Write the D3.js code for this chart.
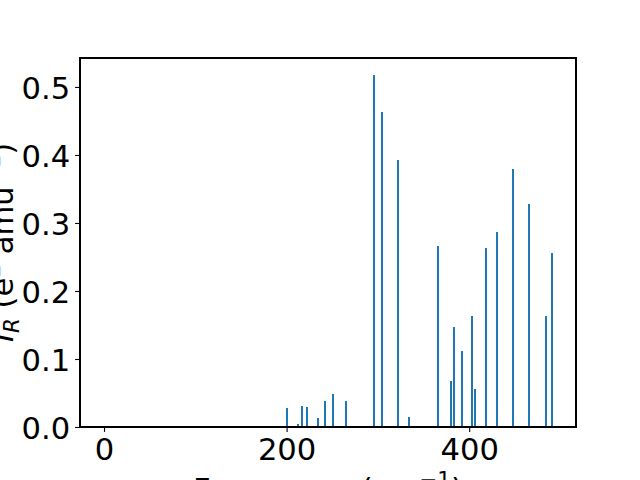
<!DOCTYPE html>
<html>
<head>
<meta charset="utf-8">
<script src="https://cdn.jsdelivr.net/npm/d3@7"></script>
<style>
  html, body { margin: 0; padding: 0; background: #fff; }
  svg { display: block; font-family: "DejaVu Sans", sans-serif; }
</style>
</head>
<body>
<script>
// Data
const frequencies = [200, 212, 216.6, 222, 234.5, 242, 250.6, 265, 296, 304, 322, 334.6, 366, 380, 383.6, 392, 403, 406, 418.6, 431, 448, 466, 483.6, 491];
const intensities = [0.028, 0.004, 0.031, 0.029, 0.013, 0.038, 0.049, 0.038, 0.518, 0.463, 0.393, 0.014, 0.266, 0.068, 0.147, 0.112, 0.163, 0.056, 0.263, 0.287, 0.379, 0.328, 0.163, 0.256];
const xTicks = [0, 200, 400];
const yTicks = [0.0, 0.1, 0.2, 0.3, 0.4, 0.5];
const xLabel = "Frequency (cm";
const yLabelMain = "I";

const W = 640, H = 480;
const m = {left: 80, right: 576, top: 58, bottom: 427};
const fs = 30.6;
const barPx = 2;

const svg = d3.select("body").append("svg").attr("width", W).attr("height", H);
svg.append("rect").attr("width", W).attr("height", H).attr("fill", "#fff");

const x = d3.scaleLinear().domain([-26.3, 517]).range([m.left, m.right]);
const y = d3.scaleLinear().domain([0, 0.5426]).range([m.bottom, m.top]);

const data = frequencies.map((f, i) => ({f, v: intensities[i]}));

svg.append("g").selectAll("rect").data(data).enter().append("rect")
  .attr("x", d => Math.round(x(d.f) - barPx / 2))
  .attr("width", barPx)
  .attr("y", d => Math.round(y(d.v)))
  .attr("height", d => m.bottom - Math.round(y(d.v)))
  .attr("fill", "#1f77b4");

// Axes
const xAxis = d3.axisBottom(x).tickValues(xTicks).tickFormat(d3.format("d")).tickSizeInner(4.9).tickSizeOuter(0).tickPadding(4.9);
const yAxis = d3.axisLeft(y).tickValues(yTicks).tickFormat(d3.format(".1f")).tickSizeInner(4.9).tickSizeOuter(0).tickPadding(4.9);

const gx = svg.append("g").attr("transform", `translate(0,${m.bottom})`).call(xAxis);
const gy = svg.append("g").attr("transform", `translate(${m.left},0)`).call(yAxis);
[gx, gy].forEach(g => {
  g.select(".domain").remove();
  g.selectAll("line").attr("stroke", "#000").attr("stroke-width", 1.1);
  g.selectAll("text").attr("font-size", fs).attr("fill", "#000").attr("font-family", "DejaVu Sans, sans-serif");
});
gx.selectAll("text").attr("dy", "0.76em");
gy.selectAll("text").attr("dy", "0.36em");

// Frame
svg.append("rect")
  .attr("x", m.left).attr("y", m.top)
  .attr("width", m.right - m.left).attr("height", m.bottom - m.top)
  .attr("fill", "none").attr("stroke", "#000").attr("stroke-width", 1.1)
  .attr("shape-rendering", "crispEdges");

// X label
const xl = svg.append("text")
  .attr("x", (m.left + m.right) / 2).attr("y", 500)
  .attr("text-anchor", "middle").attr("font-size", fs).attr("fill", "#000");
xl.append("tspan").text(xLabel);
xl.append("tspan").attr("font-size", fs * 0.7).attr("dy", -fs * 0.42).text("−1");
xl.append("tspan").attr("dy", fs * 0.42).text(")");

// Y label
const yl = svg.append("text")
  .attr("transform", `translate(13,${(m.top + m.bottom) / 2}) rotate(-90)`)
  .attr("text-anchor", "middle").attr("font-size", fs).attr("fill", "#000");
yl.append("tspan").attr("font-style", "italic").text(yLabelMain);
yl.append("tspan").attr("font-style", "italic").attr("font-size", fs * 0.7).attr("dy", fs * 0.2).text("R");
yl.append("tspan").attr("dy", -fs * 0.2).text(" (e");
yl.append("tspan").attr("font-size", fs * 0.7).attr("dy", -fs * 0.42).text("2");
yl.append("tspan").attr("dy", fs * 0.42).text(" amu");
yl.append("tspan").attr("font-size", fs * 0.7).attr("dy", -fs * 0.42).text("−1");
yl.append("tspan").attr("dy", fs * 0.42).text(")");
</script>
</body>
</html>
